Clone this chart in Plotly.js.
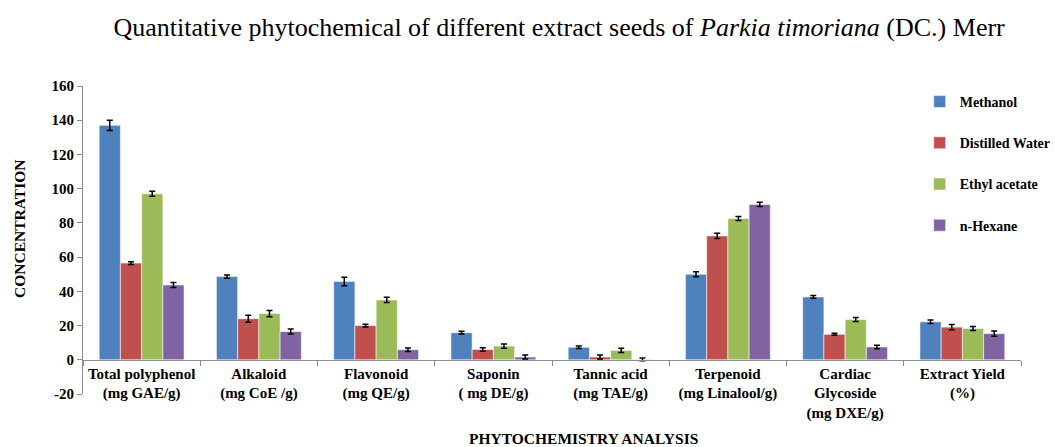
<!DOCTYPE html>
<html>
<head>
<meta charset="utf-8">
<script src="https://cdn.plot.ly/plotly-3.0.1.min.js"></script>
<style>html,body{margin:0;padding:0;background:#fff;}#chart{width:1055px;height:447px;}</style>
</head>
<body>
<div id="chart"></div>
<script>
const categories = [
  "Total polyphenol<br>(mg GAE/g)",
  "Alkaloid<br>(mg CoE /g)",
  "Flavonoid<br>(mg QE/g)",
  "Saponin<br>( mg DE/g)",
  "Tannic acid<br>(mg TAE/g)",
  "Terpenoid<br>(mg Linalool/g)",
  "Cardiac<br>Glycoside<br>(mg DXE/g)",
  "Extract Yield<br>(%)"
];
const seriesNames = ["Methanol", "Distilled Water", "Ethyl acetate", "n-Hexane"];
const methanol      = [137.0, 48.6, 45.8, 15.8, 7.3, 50.0, 36.7, 22.2];
const distilledWater= [56.5, 24.0, 20.0, 6.0, 1.6, 72.4, 14.9, 19.1];
const ethylAcetate  = [97.0, 27.0, 35.0, 8.0, 5.5, 82.6, 23.5, 18.3];
const nHexane       = [43.7, 16.5, 5.9, 1.6, 0.2, 90.8, 7.5, 15.3];
const methanolErr      = [3.0, 1.0, 2.5, 0.8, 0.7, 1.5, 0.8, 1.0];
const distilledWaterErr= [0.8, 2.0, 0.8, 1.0, 1.2, 1.5, 0.6, 1.5];
const ethylAcetateErr  = [1.5, 1.8, 1.5, 1.2, 1.2, 1.2, 1.2, 1.2];
const nHexaneErr       = [1.5, 1.5, 1.0, 1.2, 0.8, 1.2, 1.0, 1.5];
const yTicks = [-20, 0, 20, 40, 60, 80, 100, 120, 140, 160];

const colors = ["#4F81BD", "#C0504D", "#9BBB59", "#8064A2"];
const values = [methanol, distilledWater, ethylAcetate, nHexane];
const errs = [methanolErr, distilledWaterErr, ethylAcetateErr, nHexaneErr];
const serif = "Liberation Serif, Times New Roman, serif";

const traces = seriesNames.map((name, i) => ({
  type: "bar",
  name: name,
  x: categories,
  y: values[i],
  legendgroup: "g" + i,
  marker: {color: colors[i], line: {color: "rgba(255,255,255,0.55)", width: 1}},
  error_y: {type: "data", array: errs[i], visible: true, color: "#000", thickness: 1.5, width: 3}
}));

const layout = {
  width: 1055, height: 447,
  margin: {l: 83, r: 34, t: 86, b: 53, autoexpand: false},
  paper_bgcolor: "#fff", plot_bgcolor: "#fff",
  barmode: "group", bargap: 0.276, bargroupgap: 0,
  title: {
    text: "Quantitative phytochemical of different extract seeds of <i>Parkia timoriana</i> (DC.) Merr",
    font: {family: serif, size: 26, color: "#000"},
    x: 0.53, xanchor: "center", xref: "container", y: 0.94, yanchor: "middle"
  },
  xaxis: {
    anchor: "free", position: 20/180,
    showline: true, linecolor: "#8c8c8c", linewidth: 1,
    ticks: "outside", tickson: "boundaries", ticklen: 5, tickcolor: "#8c8c8c",
    tickangle: 0, automargin: false,
    tickfont: {family: serif, size: 15, color: "#000", weight: "bold"},
    showgrid: false, zeroline: false, fixedrange: true
  },
  yaxis: {
    range: [-20, 160], tickvals: yTicks, ticktext: yTicks.map(String),
    showline: true, linecolor: "#8c8c8c", linewidth: 1,
    ticks: "outside", ticklen: 5, tickcolor: "#8c8c8c",
    tickfont: {family: serif, size: 15, color: "#000", weight: "bold"},
    showgrid: false, zeroline: false, automargin: false
  },
  legend: {
    x: 0.892, xanchor: "left", y: 1, yanchor: "top",
    traceorder: "grouped", tracegroupgap: 20, itemwidth: 30,
    font: {family: serif, size: 14, color: "#000", weight: "bold"},
    bgcolor: "rgba(0,0,0,0)"
  },
  annotations: [
    {text: "PHYTOCHEMISTRY ANALYSIS", xref: "paper", yref: "paper", x: 0.534, y: 0, yshift: -44,
     xanchor: "center", yanchor: "middle", showarrow: false,
     font: {family: serif, size: 15.5, color: "#000", weight: "bold"}},
    {text: "CONCENTRATION", xref: "paper", yref: "paper", x: 0, xshift: -63, y: 0.536,
     xanchor: "center", yanchor: "middle", textangle: -90, showarrow: false,
     font: {family: serif, size: 15.5, color: "#000", weight: "bold"}}
  ],
  showlegend: true
};

Plotly.newPlot("chart", traces, layout, {displayModeBar: false, staticPlot: true});
</script>
</body>
</html>
